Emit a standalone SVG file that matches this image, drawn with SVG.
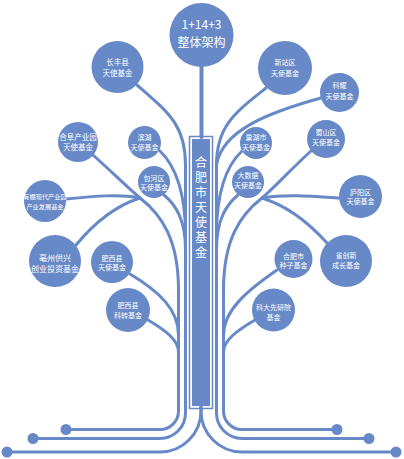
<svg xmlns="http://www.w3.org/2000/svg" width="404" height="459" viewBox="0 0 404 459">
<style>
.ln{fill:none;stroke:#6789c7;stroke-width:3;stroke-linecap:round}
.nd{fill:#6789c7}
.t{fill:#ffffff;font-family:"Noto Sans CJK SC","Noto Sans",sans-serif;text-anchor:middle;font-size:7px}
.big{font-size:12px}
</style>
<rect width="404" height="459" fill="#ffffff"/>
<g id="connectors">
<path class="ln" d="M201.5,60 V137" style="stroke-width:4"/>
<path class="ln" d="M137,85 C168,112 185.5,125 185.5,165 V413 A25.5 25.5 0 0 1 160,438.5 H33"/>
<path class="ln" d="M159,150 C175,165 185.5,190 185.5,235"/>
<path class="ln" d="M164,195 C176,205 185.5,220 185.5,250"/>
<path class="ln" d="M140,198 C162,215 178.5,240 178.5,290 V411 A18.5 18.5 0 0 1 160,429.5 H66"/>
<path class="ln" d="M93,155 C112,172 128,188 140,198"/>
<path class="ln" d="M66,199 C95,196 120,194 140,198"/>
<path class="ln" d="M76,245 C95,222 118,205 140,198"/>
<path class="ln" d="M130,274 C160,292 178.5,310 178.5,335"/>
<path class="ln" d="M148,320 C165,330 178.5,340 178.5,352"/>
<path class="ln" d="M266,88 C236,112 216.5,125 216.5,165 V413 A25.5 25.5 0 0 0 242,438.5 H369"/>
<path class="ln" d="M321,98 C270,112 222,130 216.5,165"/>
<path class="ln" d="M242,151 C227,165 216.5,190 216.5,235"/>
<path class="ln" d="M238,195 C226,205 216.5,220 216.5,250"/>
<path class="ln" d="M262,198 C240,215 223.5,240 223.5,290 V411 A18.5 18.5 0 0 0 242,429.5 H337"/>
<path class="ln" d="M311,151 C290,170 274,188 262,198"/>
<path class="ln" d="M339,198 C310,196 285,194 262,198"/>
<path class="ln" d="M327,243 C308,222 285,205 262,198"/>
<path class="ln" d="M277,270 C248,290 223.5,310 223.5,335"/>
<path class="ln" d="M255,320 C238,330 223.5,340 223.5,352"/>
<path class="ln" d="M201,405 V411 A41 41 0 0 1 160,452 H7"/>
<path class="ln" d="M201,405 V411 A41 41 0 0 0 242,452 H396"/>
<circle class="nd" cx="66" cy="429.5" r="5.5"/>
<circle class="nd" cx="33" cy="438.5" r="5.5"/>
<circle class="nd" cx="7" cy="452" r="5.5"/>
<circle class="nd" cx="337" cy="429.5" r="5.5"/>
<circle class="nd" cx="369" cy="438.5" r="5.5"/>
<circle class="nd" cx="396" cy="452" r="5.5"/>
</g>
<g id="top">
<circle class="nd" cx="201.5" cy="35" r="32"/>
<text class="t big" x="201.5" y="29">1+14+3</text>
<text class="t big" x="201.5" y="47">整体架构</text>
</g>
<g id="trunk">
<rect x="189.5" y="136.5" width="23" height="272" fill="none" stroke="#6789c7" stroke-width="1.5"/>
<rect class="nd" x="192" y="139" width="18" height="267"/>
<text class="t" x="201" y="156" style="font-size:12px;writing-mode:vertical-rl;text-anchor:start;letter-spacing:3px">合肥市天使基金</text>
</g>
<g id="n-changfeng"><circle class="nd" cx="117.5" cy="67" r="26"/><text class="t" style="font-size:7.5px" x="117.5" y="65">长丰县</text><text class="t" style="font-size:7.5px" x="117.5" y="75.5">天使基金</text></g>
<g id="n-hefu"><circle class="nd" cx="78" cy="142" r="20"/><text class="t" style="font-size:7.5px" x="78" y="140">合阜产业园</text><text class="t" style="font-size:7.5px" x="78" y="150">天使基金</text></g>
<g id="n-binhu"><circle class="nd" cx="144.5" cy="142.5" r="16.5"/><text class="t" x="144.5" y="140">滨湖</text><text class="t" x="144.5" y="149.5">天使基金</text></g>
<g id="n-baohe"><circle class="nd" cx="154" cy="182" r="16"/><text class="t" x="154" y="180.5">包河区</text><text class="t" x="154" y="189.5">天使基金</text></g>
<g id="n-youpeng"><circle class="nd" cx="45" cy="201" r="21"/><text class="t" style="font-size:6.2px" x="45" y="198.5">有棚现代产业园</text><text class="t" style="font-size:6.2px" x="45" y="209">产业发展基金</text></g>
<g id="n-bozhou"><circle class="nd" cx="55" cy="261" r="26"/><text class="t" style="font-size:8px" x="55" y="261">亳州供兴</text><text class="t" style="font-size:8px" x="55" y="271.5">创业投资基金</text></g>
<g id="n-feixi1"><circle class="nd" cx="112" cy="262" r="21"/><text class="t" x="112" y="260.5">肥西县</text><text class="t" x="112" y="270">天使基金</text></g>
<g id="n-feixi2"><circle class="nd" cx="128" cy="310" r="22"/><text class="t" x="128" y="307.5">肥西县</text><text class="t" x="128" y="317.5">科转基金</text></g>
<g id="n-xinzhan"><circle class="nd" cx="285" cy="68" r="27"/><text class="t" x="285" y="65">新站区</text><text class="t" x="285" y="75.5">天使基金</text></g>
<g id="n-keyao"><circle class="nd" cx="339.5" cy="92.5" r="19.5"/><text class="t" x="339.5" y="88">科耀</text><text class="t" x="339.5" y="99">天使基金</text></g>
<g id="n-chaohu"><circle class="nd" cx="256" cy="143" r="16"/><text class="t" x="256" y="140">巢湖市</text><text class="t" x="256" y="150">天使基金</text></g>
<g id="n-shushan"><circle class="nd" cx="326" cy="139" r="19"/><text class="t" x="326" y="135">蜀山区</text><text class="t" x="326" y="145">天使基金</text></g>
<g id="n-dashuju"><circle class="nd" cx="248" cy="182" r="16"/><text class="t" x="248" y="178">大数据</text><text class="t" x="248" y="188">天使基金</text></g>
<g id="n-luyang"><circle class="nd" cx="360.5" cy="196.5" r="21.5"/><text class="t" x="360.5" y="194.5">庐阳区</text><text class="t" x="360.5" y="204">天使基金</text></g>
<g id="n-zhongzi"><circle class="nd" cx="293.5" cy="259" r="19"/><text class="t" x="293.5" y="258.5">合肥市</text><text class="t" x="293.5" y="268">种子基金</text></g>
<g id="n-shengchuang"><circle class="nd" cx="346" cy="261" r="26"/><text class="t" x="346" y="258">省创新</text><text class="t" x="346" y="268">成长基金</text></g>
<g id="n-keda"><circle class="nd" cx="273.5" cy="310" r="21.5"/><text class="t" x="273.5" y="309.5">科大先研院</text><text class="t" x="273.5" y="319.5">基金</text></g>
</svg>
